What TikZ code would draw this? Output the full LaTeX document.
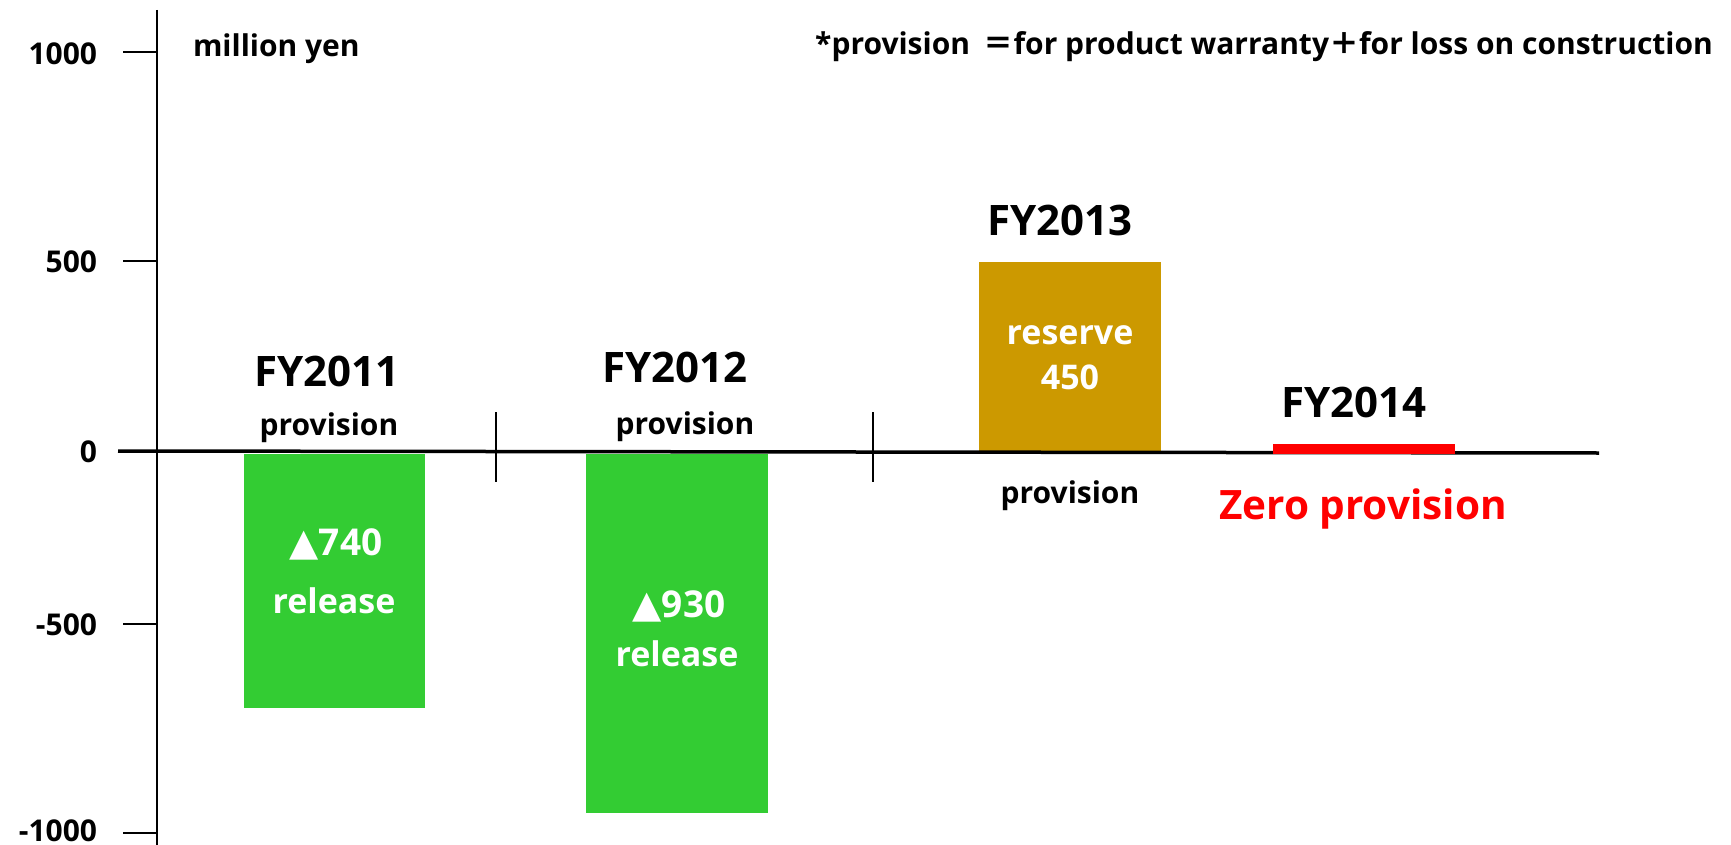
\documentclass[tikz,border=0pt]{standalone}
\usepackage{fontspec}
\setmainfont{Open Sans}
\newfontfamily\dejavu{DejaVu Sans}
\newfontfamily\cjkjp{Noto Sans CJK JP}
\definecolor{barGreen}{HTML}{33CC33}
\definecolor{barGold}{HTML}{CC9900}
\definecolor{barRed}{HTML}{FF0000}
\newcommand{\fsz}[1]{\fontsize{#1}{#1}\selectfont}
\newcommand{\tri}{{\dejavu\bfseries\fsz{38}▲}}
\begin{document}
\begin{tikzpicture}[x=1pt,y=-1pt,
  txt/.style={inner sep=0pt, outer sep=0pt, font=\bfseries},
  axislbl/.style={txt, anchor=base east, font=\bfseries\fsz{30}},
  fylbl/.style={txt, anchor=base, font=\bfseries\fsz{42}},
  provlbl/.style={txt, anchor=base, font=\bfseries\fsz{30}},
  inbar/.style={txt, anchor=base, text=white, font=\bfseries\fsz{34}},
  delta/.style={inbar, font=\bfseries\fsz{37}},
  axisline/.style={line width=2pt, black},
  zeroline/.style={line width=3.5pt, black},
  sepline/.style={line width=1.8pt, black}]
\useasboundingbox (0,0) rectangle (1731,845);
\fill[white] (0,0) rectangle (1731,845);

% bars
\fill[barGreen] (244,454) rectangle (425,708);
\fill[barGreen] (586,454) rectangle (768,813);
\fill[barGold] (979,262) rectangle (1161,452);

% axis
\coordinate (axTop) at (157,10);
\coordinate (axBot) at (157,845);
\draw[axisline] (axTop) -- (axBot);
\coordinate (t1a) at (123,52);  \coordinate (t1b) at (157,52);
\coordinate (t2a) at (123,261); \coordinate (t2b) at (157,261);
\coordinate (t4a) at (123,624); \coordinate (t4b) at (157,624);
\coordinate (t5a) at (123,833); \coordinate (t5b) at (157,833);
\draw[axisline] (t1a) -- (t1b);
\draw[axisline] (t2a) -- (t2b);
\draw[axisline] (t4a) -- (t4b);
\draw[axisline] (t5a) -- (t5b);

% zero line
\coordinate (z0) at (118,451);
\coordinate (z1) at (1599,453);
\draw[zeroline] (z0) -- (z1);

% separators
\coordinate (s1a) at (496,412); \coordinate (s1b) at (496,482);
\coordinate (s2a) at (873,412); \coordinate (s2b) at (873,482);
\draw[sepline] (s1a) -- (s1b);
\draw[sepline] (s2a) -- (s2b);

% FY2014 red bar
\fill[barRed] (1273,444) rectangle (1455,454);

% axis labels
\node[axislbl] (l1000) at (97,65) {1000};
\node[axislbl] (l500) at (97,272) {500};
\node[axislbl] (l0) at (97,462) {0};
\node[axislbl] (lm500) at (97,635) {-500};
\node[axislbl] (lm1000) at (97,841) {-1000};

% headers
\node[txt, anchor=base west, font=\bfseries\fsz{30}] (unit) at (193,57) {million yen};
\node[txt, anchor=base east, font=\bfseries\fsz{30}] (note) at (1713,55)
  {*provision\hspace{0.45em}{\cjkjp\bfseries ＝}for product warranty{\cjkjp\bfseries ＋}for loss on construction};

% year labels
\node[fylbl] (fy11) at (327,386) {FY2011};
\node[provlbl] (pv11) at (329,435) {provision};
\node[fylbl] (fy12) at (675,382) {FY2012};
\node[provlbl] (pv12) at (685,434) {provision};
\node[fylbl] (fy13) at (1060,235) {FY2013};
\node[provlbl] (pv13) at (1070,503) {provision};
\node[fylbl] (fy14) at (1354,417) {FY2014};
\node[txt, anchor=base, text=barRed, font=\bfseries\fsz{40.5}] (zero) at (1363,519) {Zero provision};

% in-bar labels
\node[delta] (v740) at (336,555) {\tri 740};
\node[inbar] (r740) at (334,613) {release};
\node[delta] (v930) at (679,617) {\tri 930};
\node[inbar] (r930) at (677,666) {release};
\node[inbar] (res) at (1070,344) {reserve};
\node[inbar] (v450) at (1070,389) {450};
\end{tikzpicture}
\end{document}
